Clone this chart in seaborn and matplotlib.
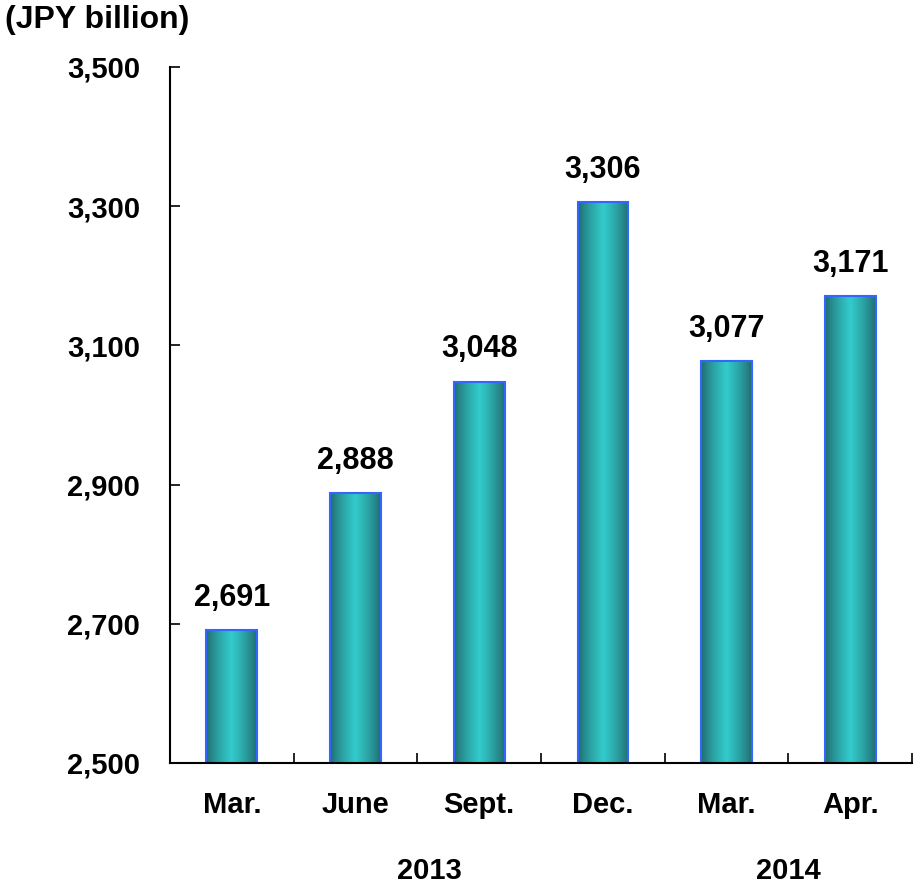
import numpy as np
import pandas as pd
import matplotlib
matplotlib.use("Agg")
import matplotlib.pyplot as plt
import seaborn as sns

# Data
months = ["Mar.", "June", "Sept.", "Dec.", "Mar.", "Apr."]
values = [2691, 2888, 3048, 3306, 3077, 3171]
years = ["2013", "2014"]
year_pos = [1.6, 4.5]

df = pd.DataFrame({"pos": range(len(values)), "value": values})

sns.set_style("white")
plt.rcParams["font.family"] = ["Liberation Sans", "DejaVu Sans"]
plt.rcParams["font.weight"] = "bold"
plt.rcParams["text.color"] = "black"
plt.rcParams["xtick.color"] = "black"
plt.rcParams["ytick.color"] = "black"

fig = plt.figure(figsize=(9.14, 8.93), dpi=100)
ax = fig.add_axes([0.186, 0.1456, 0.812, 0.7794])

sns.barplot(data=df, x="pos", y="value", color="#33cccc", width=0.41,
            edgecolor="#3366ff", linewidth=1.5, ax=ax)

ax.set_ylim(2500, 3500)
ax.set_xlim(-0.5, len(values) - 0.5)

# cylinder-like horizontal gradient on each bar
dark = np.array([0.11, 0.33, 0.35])
light = np.array([0.2, 0.8, 0.8])
t = np.linspace(0, 1, 100)
shade = np.clip(1 - np.abs(t - 0.5) / 0.55, 0, 1) ** 0.7
grad = dark[None, :] + (light - dark)[None, :] * shade[:, None]
grad = grad[None, :, :]
for p in ax.patches:
    x0, w = p.get_x(), p.get_width()
    h = p.get_height()
    im = ax.imshow(grad, extent=[x0, x0 + w, 2500, h], aspect="auto",
                   zorder=p.get_zorder() + 0.1, interpolation="bicubic")
    im.set_clip_path(p)
    p.set_facecolor("none")
    p.set_zorder(p.get_zorder() + 0.2)

for i, v in enumerate(values):
    ax.text(i, v + 25, f"{v:,}", ha="center", va="bottom",
            fontsize=22, fontweight="bold")

ax.set_yticks(np.arange(2500, 3501, 200))
ax.set_yticklabels([f"{v:,}" for v in range(2500, 3501, 200)],
                   fontsize=21, fontweight="bold")
ax.tick_params(axis="y", left=True, direction="in", length=7, width=1.2,
               pad=21.6)

ax.set_xticks(np.arange(len(values) + 1) - 0.5)
ax.set_xticklabels([])
ax.set_xticks(range(len(values)), minor=True)
ax.set_xticklabels(months, minor=True, fontsize=21, fontweight="bold")
ax.tick_params(axis="x", which="major", bottom=True, direction="in",
               length=7, width=1.2)
ax.tick_params(axis="x", which="minor", bottom=True, length=0, pad=20)

for s in ["top", "right"]:
    ax.spines[s].set_visible(False)
for s in ["left", "bottom"]:
    ax.spines[s].set_color("black")
    ax.spines[s].set_linewidth(1.5)

ax.set_xlabel("")
ax.set_ylabel("")

for yr, xp in zip(years, year_pos):
    ax.text(xp, -0.155, yr, transform=ax.get_xaxis_transform(),
            ha="center", va="center", fontsize=21, fontweight="bold")

fig.text(0.005, 0.978, "(JPY billion)", ha="left", va="center",
         fontsize=23, fontweight="bold")

fig.savefig("out.png", dpi=100)
